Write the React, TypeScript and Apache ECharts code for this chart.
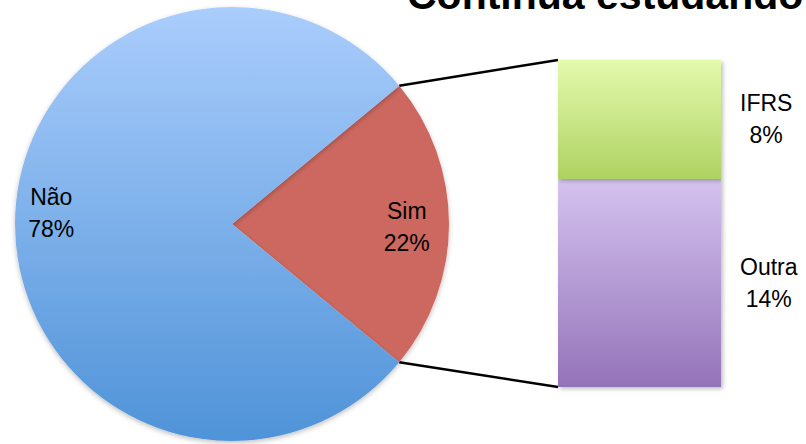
import React, { useEffect, useRef } from "react";
import * as echarts from "echarts";

const titleText = "Continua estudando";
const pieCategories = ["Sim", "Não"];
const pieValues = [22, 78];
const barCategories = ["Outra", "IFRS"];
const barValues = [14, 8];

export default function App() {
  const ref = useRef<HTMLDivElement>(null);

  useEffect(() => {
    if (!ref.current) return;
    const chart = echarts.init(ref.current, null, { renderer: "svg" });
    const font = "'Liberation Sans', Arial, sans-serif";
    const fontSize = 23;

    const cx = 232;
    const cy = 224;
    const R = 217;
    const total = pieValues.reduce((a, b) => a + b, 0);
    const half = (pieValues[0] / total) * 180;
    const rad = (half * Math.PI) / 180;

    const gL = 558, gR = 721, gT = 60, gB = 387;
    const barTotal = barValues.reduce((a, b) => a + b, 0);

    const p1 = [cx + R * Math.cos(rad), cy - R * Math.sin(rad)];
    const p2 = [cx + R * Math.cos(rad), cy + R * Math.sin(rad)];

    const ctx = document.createElement("canvas").getContext("2d")!;
    ctx.font = `${fontSize}px ${font}`;
    const measure = (s: string) => ctx.measureText(s).width;

    const pieColors = [
      "#CC675F",
      new echarts.graphic.LinearGradient(0, 0, 0, 1, [
        { offset: 0, color: "#AACDFC" },
        { offset: 1, color: "#4F93D8" },
      ]),
    ];
    const barColors = [
      new echarts.graphic.LinearGradient(0, 0, 0, 1, [
        { offset: 0, color: "#D5C3F0" },
        { offset: 1, color: "#9473B9" },
      ]),
      new echarts.graphic.LinearGradient(0, 0, 0, 1, [
        { offset: 0, color: "#E4FAAD" },
        { offset: 1, color: "#AED262" },
      ]),
    ];

    const labelStyle = {
      fontFamily: font,
      fontSize,
      lineHeight: 32,
      color: "#000",
    };

    chart.setOption({
      animation: false,
      backgroundColor: "#fff",
      grid: { left: gL, top: gT, width: gR - gL, height: gB - gT, containLabel: false },
      xAxis: { type: "category", data: ["x"], show: false },
      yAxis: { type: "value", min: 0, max: barTotal, show: false },
      series: [
        {
          type: "pie",
          center: [cx, cy],
          radius: [0, R],
          startAngle: half,
          clockwise: true,
          silent: true,
          label: { show: false },
          labelLine: { show: false },
          itemStyle: {
            shadowBlur: 5,
            shadowColor: "rgba(0,0,0,0.25)",
            shadowOffsetY: 2,
          },
          data: pieCategories.map((name, i) => ({
            name,
            value: pieValues[i],
            itemStyle: { color: pieColors[i] },
          })),
        },
        {
          type: "pie",
          center: [cx, cy],
          radius: [R * 0.62, R],
          startAngle: half,
          clockwise: true,
          silent: true,
          itemStyle: { color: "rgba(0,0,0,0)" },
          labelLine: { show: false },
          label: {
            show: true,
            position: "inside",
            formatter: (p: any) => `${p.name}\n${p.value}%`,
            ...labelStyle,
          },
          data: pieCategories.map((name, i) => ({
            name,
            value: pieValues[i],
            label: i === 1 ? { offset: [-2, -11] } : { offset: [-4, 3] },
          })),
        },
        ...barCategories.map((name, i) => {
          const w = Math.max(measure(name), measure(`${barValues[i]}%`));
          return {
            type: "bar",
            name,
            stack: "s",
            barWidth: "100%",
            silent: true,
            itemStyle: {
              color: barColors[i],
              shadowBlur: 4,
              shadowColor: "rgba(0,0,0,0.25)",
              shadowOffsetX: 2,
              shadowOffsetY: 2,
            },
            label: {
              show: true,
              position: "right",
              distance: 19 + w / 2,
              align: "center",
              formatter: () => `${name}\n${barValues[i]}%`,
              ...labelStyle,
            },
            data: [{ name, value: barValues[i] }],
          };
        }),
      ],
      graphic: [
        {
          type: "line",
          silent: true,
          shape: { x1: p1[0], y1: p1[1], x2: gL, y2: gT },
          style: { stroke: "#000", lineWidth: 2.5 },
        },
        {
          type: "line",
          silent: true,
          shape: { x1: p2[0], y1: p2[1], x2: gL, y2: gB },
          style: { stroke: "#000", lineWidth: 2.5 },
        },
        {
          type: "text",
          x: 407,
          y: -5,
          silent: true,
          style: {
            text: titleText,
            font: `bold 41px ${font}`,
            fill: "#000",
            align: "left",
            verticalAlign: "middle",
          },
        },
      ],
    });

    return () => chart.dispose();
  }, []);

  return (
    <div
      ref={ref}
      style={{ position: "absolute", left: 0, top: 0, width: 806, height: 444 }}
    />
  );
}
